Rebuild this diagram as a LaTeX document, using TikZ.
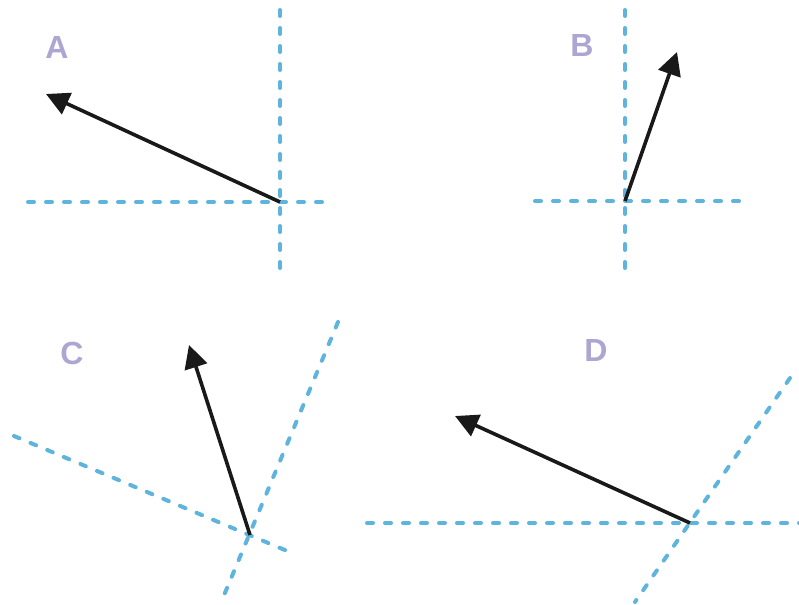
\documentclass[tikz,border=0pt]{standalone}
\usepackage{fontspec}
\setmainfont{Liberation Sans}
\usetikzlibrary{arrows.meta}
\definecolor{axisblue}{RGB}{95,180,222}
\definecolor{labelpurple}{RGB}{172,166,210}
\tikzset{
  axisline/.style={draw=axisblue, line width=4pt, dash pattern=on 6pt off 12pt, line cap=round},
  vec/.style={draw=black!90, line width=3.6pt, -{Triangle[length=23pt,width=23pt]}},
  panellabel/.style={text=labelpurple, font=\fontsize{32}{32}\selectfont\bfseries, inner sep=0pt}
}
\begin{document}
\begin{tikzpicture}[x=1pt,y=-1pt]
\useasboundingbox (0,0) rectangle (799,604);
% Panel A
\coordinate (a0) at (280,202);
\coordinate (av1) at (280,10); \coordinate (av2) at (280,272);
\coordinate (ah1) at (28,202); \coordinate (ah2) at (328,202);
\coordinate (at) at (46,94);
\draw[axisline] (av1) -- (av2);
\draw[axisline] (ah1) -- (ah2);
\draw[vec] (a0) -- (at);
\node[panellabel] (la) at (57,47) {A};
% Panel B
\coordinate (b0) at (625,201);
\coordinate (bv1) at (625,10); \coordinate (bv2) at (625,272);
\coordinate (bh1) at (535,201); \coordinate (bh2) at (740,201);
\coordinate (bt) at (677,52);
\draw[axisline] (bv1) -- (bv2);
\draw[axisline] (bh1) -- (bh2);
\draw[vec] (b0) -- (bt);
\node[panellabel] (lb) at (582,45) {B};
% Panel C
\coordinate (c0) at (250,535);
\coordinate (c11) at (338,322); \coordinate (c12) at (222,600);
\coordinate (c21) at (14,436); \coordinate (c22) at (292,553);
\coordinate (ct) at (189,345);
\draw[axisline] (c11) -- (c12);
\draw[axisline] (c21) -- (c22);
\draw[vec] (c0) -- (ct);
\node[panellabel] (lc) at (72,353) {C};
% Panel D
\coordinate (d0) at (690,523);
\coordinate (dh1) at (367,523); \coordinate (dh2) at (799,523);
\coordinate (dd1) at (790,378); \coordinate (dd2) at (635,602);
\coordinate (dt) at (455,416);
\draw[axisline] (dh1) -- (dh2);
\draw[axisline] (dd1) -- (dd2);
\draw[vec] (d0) -- (dt);
\node[panellabel] (ld) at (596,350) {D};
\end{tikzpicture}
\end{document}
